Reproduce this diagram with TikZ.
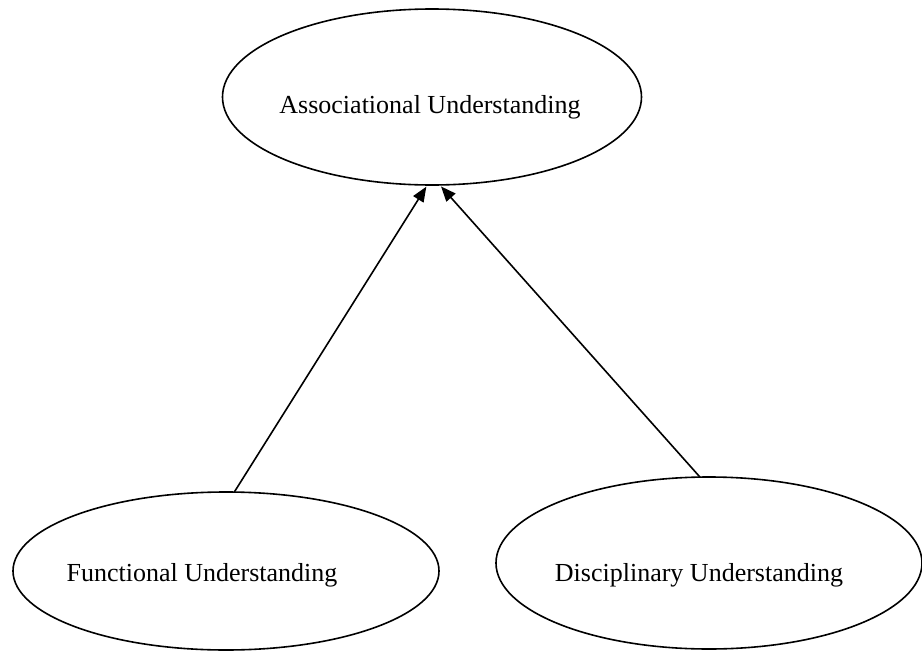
\documentclass[tikz,border=0pt]{standalone}
\usepackage{fontspec}
\setmainfont{Liberation Serif}
\usetikzlibrary{shapes.geometric,arrows.meta}
\begin{document}
\begin{tikzpicture}[x=1pt,y=-1pt,
  ell/.style={ellipse,draw,line width=1.6pt,inner sep=0pt,outer sep=0pt},
  lbl/.style={anchor=base,inner sep=0pt,font=\fontsize{26}{30}\selectfont},
  edge/.style={line width=1.6pt,shorten >=2pt,-{Triangle[length=15pt,width=12pt]}}]
\useasboundingbox (0,0) rectangle (922,651);
\node[ell,minimum width=419pt,minimum height=176pt] (A) at (432,97) {};
\node[lbl] (At) at (430,113) {Associational Understanding};
\node[ell,minimum width=426pt,minimum height=158pt] (F) at (226,571) {};
\node[lbl] (Ft) at (202,581.5) {Functional Understanding};
\node[ell,minimum width=426pt,minimum height=172pt] (D) at (709,563) {};
\node[lbl] (Dt) at (699,581.5) {Disciplinary Understanding};
\draw[edge] (F.84) -- (A.267.5);
\draw[edge] (D.96) -- (A.275);
\end{tikzpicture}
\end{document}
